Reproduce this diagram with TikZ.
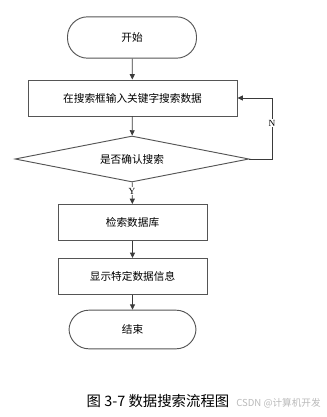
\documentclass[tikz,border=0pt]{standalone}
\usepackage{fontspec}
\setmainfont{Noto Sans CJK SC}
\newfontfamily\latinserif{Liberation Serif}
\usepackage{tikz}
\usetikzlibrary{arrows.meta}
\usetikzlibrary{shapes.geometric}
\usepackage{xcolor}

\definecolor{boxline}{HTML}{555555}
\definecolor{flowline}{HTML}{3A3A3A}

\tikzset{
	terminal/.style={draw=boxline,line width=0.7pt,rectangle,rounded corners=15pt,
		minimum width=96.75pt,minimum height=31pt,font=\fontsize{8}{9}\selectfont},
	process/.style={draw=boxline,line width=0.7pt,rectangle,
		minimum height=27pt,font=\fontsize{8}{9}\selectfont},
	decision/.style={draw=boxline,line width=0.7pt,diamond,aspect=5,inner sep=0pt,
		minimum width=175.5pt,minimum height=34.5pt,font=\fontsize{8}{9}\selectfont},
	flow/.style={draw=flowline,line width=0.6pt,-{Triangle[length=1.4mm,width=1.3mm]}},
	yn/.style={fill=white,inner sep=0.8pt,font=\latinserif\fontsize{7}{8}\selectfont}
}

\begin{document}
\begin{tikzpicture}[x=0.75pt,y=-0.75pt]
		
		% Page frame
		\useasboundingbox (0,0) rectangle (326,417);
		
		% The steps
		\node[terminal] (start) at (132,37.5) {开始};
		\node[process,minimum width=156.75pt] (input) at (132.5,98) {在搜索框输入关键字搜索数据};
		\node[decision] (confirm) at (132,159) {是否确认搜索};
		\node[process,minimum width=111.75pt] (query) at (132.5,222.5) {检索数据库};
		\node[process,minimum width=111.75pt] (show) at (132.5,276.5) {显示特定数据信息};
		\node[terminal,minimum width=95.25pt,minimum height=29pt] (stop) at (132.5,329.5) {结束};
		
		% Main flow
		\draw[flow] (start) -- (input);
		\draw[flow] (input) -- (confirm);
		\draw[flow] (confirm) -- (query);
		\draw[flow] (query) -- (show);
		\draw[flow] (show) -- (stop);
		
		% Loop back when not confirmed
		\coordinate (turn) at (272,159);
		\draw[flow] (confirm.east) -- (turn) |- (input.east);
		
		% Branch labels
		\node[yn] (ylabel) at (132,191) {Y};
		\node[yn] (nlabel) at (272,123) {N};
		
		% Caption
		\node[font=\fontsize{10.8}{12}\selectfont] (caption) at (158,401) {图\ 3-7\ 数据搜索流程图};
		\node[anchor=west,text=gray!55,font=\fontsize{7.2}{8}\selectfont,inner sep=0pt] (mark) at (236,403) {CSDN @计算机开发};
		
	\end{tikzpicture}
\end{document}
